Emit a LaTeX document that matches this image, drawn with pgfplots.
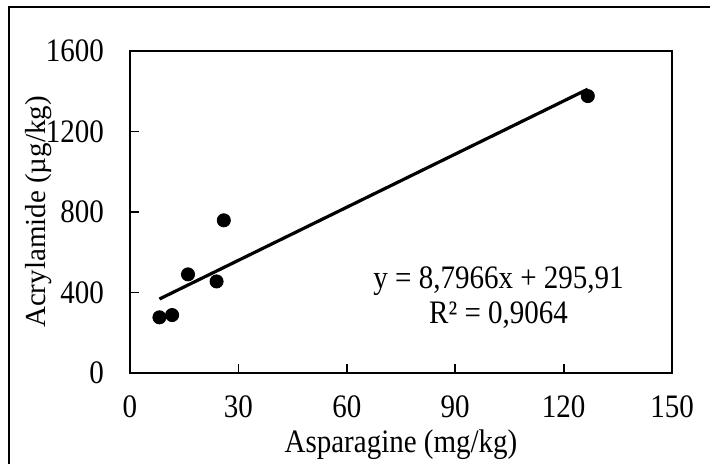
\documentclass[border=0pt]{standalone}
\usepackage{pgfplots}
\pgfplotsset{compat=1.18}
\usepackage{fontspec}
\setmainfont{Liberation Serif}

\newcommand{\tall}[1]{\scalebox{1}[1.13]{#1}}

\begin{document}
\begin{tikzpicture}
	% page = 710x464 px at 0.5pt per px, axis box lower left at origin
	\useasboundingbox (-65pt,-45.5pt) rectangle (290pt,186.5pt);
	\draw[line width=1pt] (-60.5pt,-50pt) -- (-60.5pt,183pt) -- (295pt,183pt);
	\begin{axis}[
		at={(0,0)}, anchor=south west,
		scale only axis,
		width=271pt, height=161pt,
		xmin=0, xmax=150,
		ymin=0, ymax=1600,
		xtick={0,30,60,90,120,150},
		ytick={0,400,800,1200,1600},
		tick align=inside,
		xtick pos=bottom, ytick pos=left,
		major tick length=4.5pt,
		axis line style={line width=0.9pt},
		tick style={line width=0.9pt, black},
		/pgf/number format/1000 sep={},
		/pgf/number format/assume math mode=true,
		xticklabel={\tall{\pgfmathprintnumber{\tick}}},
		yticklabel={\tall{\pgfmathprintnumber{\tick}}},
		tick label style={font=\fontsize{14.5}{16}\selectfont},
		xticklabel style={yshift=-8pt},
		yticklabel style={xshift=-9.5pt},
		label style={font=\fontsize{14.5}{16}\selectfont},
		xlabel={\tall{Asparagine (mg/kg)}},
		ylabel={Acrylamide (µg/kg)},
		xlabel style={at={(axis description cs:0.5,0)}, anchor=center, yshift=-36pt},
		ylabel style={at={(axis description cs:0,0.5)}, anchor=center, xshift=0pt, yshift=45.75pt},
		clip=false,
		]
		% measured samples
		\addplot[only marks, mark=*, mark size=3.3pt, black] coordinates {
			(8.15, 276.6)
			(11.66, 288)
			(16.05, 490)
			(23.96, 455)
			(25.96, 758.6)
			(126.7, 1376)
		};
		% linear trendline
		\addplot[black, line width=1.6pt] coordinates {
			(8.15, 367.6)
			(126.7, 1410.4)
		};
		\node[align=center, font=\fontsize{14.5}{17.5}\selectfont] at (axis cs:102,375)
			{\tall{y = 8,7966x + 295,91}\\\tall{R² = 0,9064}};
	\end{axis}
\end{tikzpicture}
\end{document}
